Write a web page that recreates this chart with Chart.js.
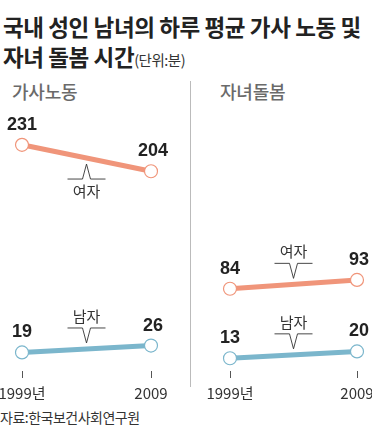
<!DOCTYPE html>
<html><head><meta charset="utf-8">
<script src="https://cdn.jsdelivr.net/npm/chart.js@4"></script>
<style>
html,body{margin:0;padding:0;background:#fff;width:372px;height:439px;overflow:hidden;font-family:"Noto Sans CJK KR","Noto Sans",sans-serif;}
#t1,#t2{position:absolute;left:3px;font-weight:700;font-size:22.5px;color:#222;letter-spacing:-0.4px;white-space:nowrap;line-height:1;}
#t1{top:15px}
#t2{top:45px}
#t2 span{font-weight:400;font-size:14.5px;letter-spacing:-0.5px;color:#333}
.pt{position:absolute;top:82px;font-size:18px;color:#6a6a6a;font-weight:500;letter-spacing:-0.2px;line-height:1}
#src{position:absolute;left:0;top:410px;font-size:14px;color:#333;letter-spacing:-0.5px;line-height:1}
#div{position:absolute;left:190px;top:81px;width:1px;height:306px;background:#bbb}
canvas{position:absolute;top:100px}
</style></head>
<body>
<div id="t1">국내 성인 남녀의 하루 평균 가사 노동 및</div>
<div id="t2">자녀 돌봄 시간<span>(단위:분)</span></div>
<div class="pt" style="left:12px">가사노동</div>
<div class="pt" style="left:220px">자녀돌봄</div>
<div id="div"></div>
<div id="src">자료:한국보건사회연구원</div>
<canvas id="c1" style="left:0px" width="186" height="310"></canvas>
<canvas id="c2" style="left:192px" width="180" height="310"></canvas>
<script>
const years = ["1999년", "2009"];
const houseworkWomen = [231, 204];
const houseworkMen = [19, 26];
const childcareWomen = [84, 93];
const childcareMen = [13, 20];
const seriesNames = ["여자", "남자"];
const ORANGE = "#F0957A", BLUE = "#7BB6CC";

const overlay = {
  id: "overlay",
  afterDatasetsDraw(chart, args, opts) {
    const ctx = chart.ctx;
    chart.data.datasets.forEach((ds, i) => {
      const meta = chart.getDatasetMeta(i);
      const pts = meta.data;
      ctx.save();
      ctx.font = "bold 18px 'Liberation Sans', Arial, sans-serif";
      ctx.fillStyle = "#222";
      ctx.textAlign = "center";
      ctx.textBaseline = "middle";
      pts.forEach((p, j) => {
        ctx.fillText(String(ds.data[j]), p.x + (j === 1 ? 2 : 0), p.y - 20);
      });
      const mx = (pts[0].x + pts[1].x) / 2, my = (pts[0].y + pts[1].y) / 2;
      const below = ds.calloutBelow;
      const dir = below ? 1 : -1;
      const tipY = my + dir * 6;
      const baseY = my + dir * 21;
      ctx.strokeStyle = "#333";
      ctx.lineWidth = 0.9;
      ctx.beginPath();
      ctx.moveTo(mx - 19, baseY);
      ctx.lineTo(mx - 4, baseY);
      ctx.lineTo(mx, tipY);
      ctx.lineTo(mx + 4, baseY);
      ctx.lineTo(mx + 19, baseY);
      ctx.stroke();
      ctx.font = "15px 'Noto Sans CJK KR', sans-serif";
      ctx.fillStyle = "#333";
      ctx.fillText(ds.label, mx, baseY + dir * 12);
      ctx.restore();
    });
  }
};

function makeChart(id, women, men, padL, padR, womenBelow) {
  const mk = (label, data, color, below) => ({
    label, data, borderColor: color, borderWidth: 5,
    pointRadius: 6.5, pointBorderWidth: 1.2, pointBackgroundColor: "#fff",
    pointBorderColor: color, calloutBelow: below, tension: 0
  });
  return new Chart(document.getElementById(id), {
    type: "line",
    data: {
      labels: years,
      datasets: [mk(seriesNames[0], women, ORANGE, womenBelow), mk(seriesNames[1], men, BLUE, false)]
    },
    options: {
      responsive: false, animation: false,
      layout: { padding: { left: padL, right: padR, top: 36, bottom: 2 } },
      plugins: { legend: { display: false }, tooltip: { enabled: false } },
      scales: {
        x: {
          offset: false,
          afterFit(scale) { scale.paddingLeft = 0; scale.paddingRight = 0; },
          grid: { drawOnChartArea: false, drawTicks: true, tickLength: 7, color: "#555", lineWidth: 1 },
          border: { display: false },
          ticks: { padding: 6, color: "#333", font: { family: "'Noto Sans CJK KR', sans-serif", size: 15 } }
        },
        y: { display: false, min: 0, max: 240 }
      }
    },
    plugins: [overlay]
  });
}
makeChart("c1", houseworkWomen, houseworkMen, 22, 35, true);
makeChart("c2", childcareWomen, childcareMen, 38, 15, false);
</script>
</body></html>
